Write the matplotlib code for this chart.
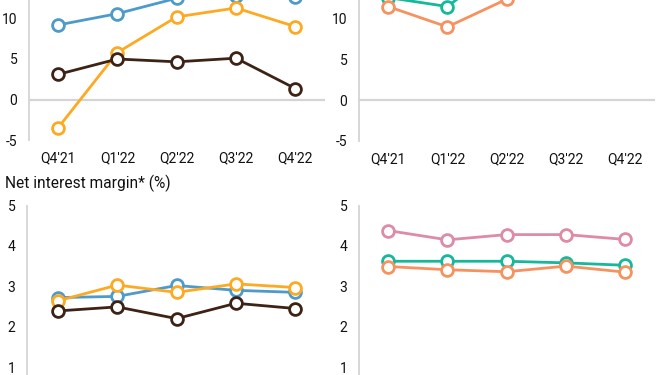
import matplotlib
matplotlib.use("Agg")
import matplotlib.pyplot as plt

plt.rcParams['font.family'] = ['Roboto', 'DejaVu Sans']

quarters = ["Q4'21", "Q1'22", "Q2'22", "Q3'22", "Q4'22"]

# top row (values above ~13 fall outside the visible crop)
roe_left_blue = [9.2, 10.6, 12.5, 12.8, 12.7]
roe_left_orange = [-3.5, 5.8, 10.2, 11.3, 9.0]
roe_left_brown = [3.1, 5.0, 4.65, 5.1, 1.35]
roe_right_green = [12.6, 11.5, 17.0, 16.5, 16.0]
roe_right_salmon = [11.5, 9.0, 12.4, 14.5, 14.0]

# net interest margin
nim_left_blue = [2.72, 2.75, 3.02, 2.9, 2.85]
nim_left_orange = [2.64, 3.03, 2.85, 3.06, 2.97]
nim_left_brown = [2.39, 2.49, 2.2, 2.58, 2.45]
nim_right_pink = [4.38, 4.15, 4.28, 4.28, 4.16]
nim_right_green = [3.62, 3.62, 3.62, 3.58, 3.52]
nim_right_salmon = [3.49, 3.41, 3.36, 3.5, 3.35]

BLUE = '#4e9bcb'
ORANGE = '#fdaa22'
BROWN = '#3d2216'
GREEN = '#15b899'
SALMON = '#f6925f'
PINK = '#de8aa9'
GRID = '#d4d4d4'

W, H = 660, 375
fig = plt.figure(figsize=(6.6, 3.75), dpi=100)


def make_axes(x0, x1, y_top_px, y_bot_px):
    return fig.add_axes([x0 / W, 1 - y_bot_px / H, (x1 - x0) / W, (y_bot_px - y_top_px) / H])


def style(ax, xlim, ylim, yticks, show_x, zero_line):
    ax.set_xlim(*xlim)
    ax.set_ylim(*ylim)
    ax.set_yticks(yticks)
    ax.set_yticklabels([str(t) for t in yticks])
    ax.set_xticks(range(len(quarters)))
    if show_x:
        ax.set_xticklabels(quarters)
    else:
        ax.set_xticklabels([])
    for s in ['top', 'right', 'bottom']:
        ax.spines[s].set_visible(False)
    ax.spines['left'].set_color(GRID)
    ax.spines['left'].set_linewidth(1.3)
    ax.tick_params(length=0, labelsize=10, colors='#111111')
    ax.tick_params(axis='y', pad=8.5)
    ax.tick_params(axis='x', pad=8)
    if zero_line:
        ax.axhline(0, color=GRID, lw=1.6, zorder=1)
    ax.patch.set_alpha(0)


def series(ax, vals, color):
    ax.plot(range(len(vals)), vals, color=color, lw=2.0, marker='o', ms=8.5,
            mfc='white', mec=color, mew=2.0, zorder=3, clip_on=False)


# top left: -5 at y=140, 8.1 px per unit, ylim -5..15
ax1 = make_axes(29, 325, 140 - 20 * 8.1, 140)
style(ax1, (-0.49, 4.5), (-5, 15), [-5, 0, 5, 10], True, True)
series(ax1, roe_left_blue, BLUE)
series(ax1, roe_left_orange, ORANGE)
series(ax1, roe_left_brown, BROWN)

# top right
ax2 = make_axes(359, 655, 141 - 20 * 8.15, 141)
style(ax2, (-0.49, 4.5), (-5, 15), [-5, 0, 5, 10], True, True)
series(ax2, roe_right_green, GREEN)
series(ax2, roe_right_salmon, SALMON)

# bottom left: 5 at y=205.5, 40.4 px per unit, ylim 0..5
ax3 = make_axes(27, 325, 205.5, 205.5 + 5 * 40.4)
style(ax3, (-0.52, 4.5), (0, 5), [1, 2, 3, 4, 5], False, False)
series(ax3, nim_left_blue, BLUE)
series(ax3, nim_left_orange, ORANGE)
series(ax3, nim_left_brown, BROWN)

# bottom right
ax4 = make_axes(359, 655, 205.5, 205.5 + 5 * 40.4)
style(ax4, (-0.49, 4.5), (0, 5), [1, 2, 3, 4, 5], False, False)
series(ax4, nim_right_pink, PINK)
series(ax4, nim_right_green, GREEN)
series(ax4, nim_right_salmon, SALMON)

fig.text(5 / W, 1 - 188 / H, "Net interest margin* (%)", fontsize=11.2,
         color='#111111', va='baseline', ha='left')

fig.savefig("out.png", dpi=100)
